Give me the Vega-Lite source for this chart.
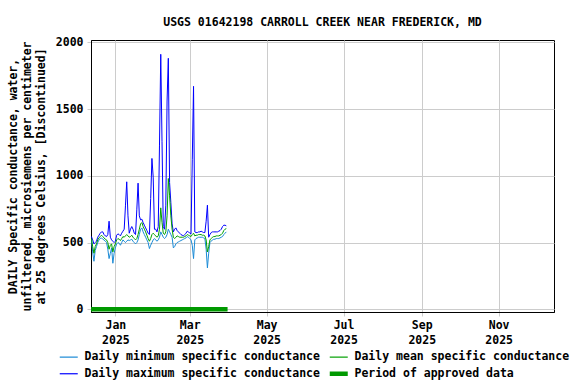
{
 "$schema": "https://vega.github.io/schema/vega-lite/v6.json",
 "width": 463, "height": 272,
 "autosize": "none",
 "padding": {"left": 91, "top": 40, "right": 22, "bottom": 72},
 "background": "white",
 "config": {"font": "DejaVu Sans Mono", "view": {"stroke": "black", "strokeWidth": 1}},
 "title": {"text": "USGS 01642198 CARROLL CREEK NEAR FREDERICK, MD", "fontSize": 11.5, "fontWeight": "bold", "font": "DejaVu Sans Mono", "anchor": "middle", "offset": 8, "color": "black"},
 "data": {"values": [
  {"t":"2024-12-13","min":520,"mean":530,"max":545},
  {"t":"2024-12-14","min":430,"mean":470,"max":520},
  {"t":"2024-12-15","min":360,"mean":420,"max":490},
  {"t":"2024-12-16","min":440,"mean":470,"max":500},
  {"t":"2024-12-17","min":470,"mean":490,"max":510},
  {"t":"2024-12-18","min":500,"mean":520,"max":540},
  {"t":"2024-12-19","min":520,"mean":535,"max":555},
  {"t":"2024-12-20","min":530,"mean":545,"max":570},
  {"t":"2024-12-21","min":535,"mean":555,"max":580},
  {"t":"2024-12-22","min":525,"mean":545,"max":580},
  {"t":"2024-12-23","min":520,"mean":535,"max":560},
  {"t":"2024-12-24","min":510,"mean":525,"max":550},
  {"t":"2024-12-25","min":500,"mean":520,"max":545},
  {"t":"2024-12-26","min":450,"mean":500,"max":560},
  {"t":"2024-12-27","min":380,"mean":450,"max":660},
  {"t":"2024-12-28","min":420,"mean":480,"max":540},
  {"t":"2024-12-29","min":460,"mean":490,"max":520},
  {"t":"2024-12-30","min":345,"mean":430,"max":510},
  {"t":"2024-12-31","min":420,"mean":470,"max":500},
  {"t":"2025-01-01","min":460,"mean":490,"max":510},
  {"t":"2025-01-02","min":490,"mean":520,"max":555},
  {"t":"2025-01-03","min":500,"mean":530,"max":565},
  {"t":"2025-01-04","min":495,"mean":525,"max":560},
  {"t":"2025-01-05","min":480,"mean":515,"max":550},
  {"t":"2025-01-06","min":500,"mean":530,"max":570},
  {"t":"2025-01-07","min":520,"mean":545,"max":585},
  {"t":"2025-01-08","min":510,"mean":540,"max":600},
  {"t":"2025-01-09","min":500,"mean":550,"max":775},
  {"t":"2025-01-10","min":510,"mean":560,"max":955},
  {"t":"2025-01-11","min":520,"mean":550,"max":700},
  {"t":"2025-01-12","min":515,"mean":540,"max":570},
  {"t":"2025-01-13","min":520,"mean":545,"max":600},
  {"t":"2025-01-14","min":525,"mean":555,"max":620},
  {"t":"2025-01-15","min":510,"mean":540,"max":600},
  {"t":"2025-01-16","min":500,"mean":530,"max":570},
  {"t":"2025-01-17","min":490,"mean":520,"max":560},
  {"t":"2025-01-18","min":500,"mean":530,"max":745},
  {"t":"2025-01-19","min":520,"mean":560,"max":945},
  {"t":"2025-01-20","min":560,"mean":600,"max":700},
  {"t":"2025-01-21","min":600,"mean":640,"max":670},
  {"t":"2025-01-22","min":610,"mean":650,"max":675},
  {"t":"2025-01-23","min":580,"mean":620,"max":650},
  {"t":"2025-01-24","min":560,"mean":600,"max":630},
  {"t":"2025-01-25","min":540,"mean":580,"max":610},
  {"t":"2025-01-26","min":520,"mean":555,"max":590},
  {"t":"2025-01-27","min":500,"mean":530,"max":570},
  {"t":"2025-01-28","min":455,"mean":510,"max":560},
  {"t":"2025-01-29","min":480,"mean":530,"max":830},
  {"t":"2025-01-30","min":500,"mean":560,"max":1130},
  {"t":"2025-01-31","min":520,"mean":570,"max":990},
  {"t":"2025-02-01","min":530,"mean":560,"max":600},
  {"t":"2025-02-02","min":520,"mean":550,"max":600},
  {"t":"2025-02-03","min":510,"mean":540,"max":580},
  {"t":"2025-02-04","min":520,"mean":550,"max":620},
  {"t":"2025-02-05","min":540,"mean":600,"max":1230},
  {"t":"2025-02-06","min":580,"mean":760,"max":1910},
  {"t":"2025-02-07","min":560,"mean":650,"max":1255},
  {"t":"2025-02-08","min":540,"mean":570,"max":620},
  {"t":"2025-02-09","min":530,"mean":560,"max":600},
  {"t":"2025-02-10","min":540,"mean":580,"max":780},
  {"t":"2025-02-11","min":560,"mean":700,"max":1560},
  {"t":"2025-02-12","min":600,"mean":980,"max":1880},
  {"t":"2025-02-13","min":580,"mean":850,"max":950},
  {"t":"2025-02-14","min":560,"mean":700,"max":800},
  {"t":"2025-02-15","min":540,"mean":600,"max":640},
  {"t":"2025-02-16","min":460,"mean":540,"max":580},
  {"t":"2025-02-17","min":470,"mean":530,"max":600},
  {"t":"2025-02-18","min":490,"mean":540,"max":610},
  {"t":"2025-02-19","min":500,"mean":550,"max":590},
  {"t":"2025-02-20","min":505,"mean":545,"max":580},
  {"t":"2025-02-21","min":510,"mean":540,"max":570},
  {"t":"2025-02-22","min":515,"mean":540,"max":560},
  {"t":"2025-02-23","min":520,"mean":540,"max":555},
  {"t":"2025-02-24","min":525,"mean":540,"max":550},
  {"t":"2025-02-25","min":530,"mean":545,"max":560},
  {"t":"2025-02-26","min":535,"mean":550,"max":570},
  {"t":"2025-02-27","min":545,"mean":560,"max":585},
  {"t":"2025-02-28","min":540,"mean":555,"max":580},
  {"t":"2025-03-01","min":530,"mean":550,"max":570},
  {"t":"2025-03-02","min":520,"mean":545,"max":565},
  {"t":"2025-03-03","min":480,"mean":560,"max":1120},
  {"t":"2025-03-04","min":380,"mean":570,"max":1670},
  {"t":"2025-03-05","min":520,"mean":550,"max":580},
  {"t":"2025-03-06","min":530,"mean":555,"max":575},
  {"t":"2025-03-07","min":535,"mean":555,"max":575},
  {"t":"2025-03-08","min":540,"mean":560,"max":580},
  {"t":"2025-03-09","min":540,"mean":560,"max":580},
  {"t":"2025-03-10","min":540,"mean":560,"max":585},
  {"t":"2025-03-11","min":540,"mean":555,"max":580},
  {"t":"2025-03-12","min":535,"mean":555,"max":575},
  {"t":"2025-03-13","min":530,"mean":550,"max":575},
  {"t":"2025-03-14","min":450,"mean":520,"max":660},
  {"t":"2025-03-15","min":310,"mean":430,"max":780},
  {"t":"2025-03-16","min":420,"mean":470,"max":540},
  {"t":"2025-03-17","min":500,"mean":520,"max":560},
  {"t":"2025-03-18","min":510,"mean":530,"max":575},
  {"t":"2025-03-19","min":520,"mean":540,"max":580},
  {"t":"2025-03-20","min":525,"mean":545,"max":580},
  {"t":"2025-03-21","min":525,"mean":545,"max":580},
  {"t":"2025-03-22","min":530,"mean":550,"max":580},
  {"t":"2025-03-23","min":530,"mean":550,"max":580},
  {"t":"2025-03-24","min":530,"mean":550,"max":585},
  {"t":"2025-03-25","min":535,"mean":555,"max":590},
  {"t":"2025-03-26","min":540,"mean":560,"max":600},
  {"t":"2025-03-27","min":545,"mean":570,"max":620},
  {"t":"2025-03-28","min":560,"mean":590,"max":630},
  {"t":"2025-03-29","min":570,"mean":600,"max":630},
  {"t":"2025-03-30","min":580,"mean":605,"max":625},
  {"t":"2024-12-12","approved":0},
  {"t":"2025-03-31","approved":0}
 ]},
 "transform": [
  {"fold": ["min", "max", "mean", "approved"], "as": ["series", "value"]},
  {"filter": "isValid(datum.value)"}
 ],
 "mark": {"type": "line", "clip": true},
 "encoding": {
  "x": {"field": "t", "type": "temporal",
   "scale": {"type": "utc", "domain": [{"year": 2024, "month": 12, "date": 12, "hours": 16, "utc": true}, {"year": 2025, "month": 12, "date": 14, "hours": 22, "utc": true}]},
   "axis": {"title": null, "values": [
     {"year": 2025, "month": 1, "date": 1, "utc": true},
     {"year": 2025, "month": 3, "date": 1, "utc": true},
     {"year": 2025, "month": 5, "date": 1, "utc": true},
     {"year": 2025, "month": 7, "date": 1, "utc": true},
     {"year": 2025, "month": 9, "date": 1, "utc": true},
     {"year": 2025, "month": 11, "date": 1, "utc": true}],
    "labelExpr": "[utcFormat(datum.value, '%b'), utcFormat(datum.value, '%Y')]",
    "labelFont": "DejaVu Sans Mono", "labelFontSize": 11.5, "labelFontWeight": "bold", "labelColor": "black", "labelLineHeight": 15,
    "grid": true, "gridColor": "#cccccc", "tickSize": 4, "tickColor": "#cccccc", "labelPadding": 3, "domainColor": "black"}},
  "y": {"field": "value", "type": "quantitative",
   "scale": {"domain": [-20, 2017], "nice": false, "zero": false},
   "axis": {"values": [0, 500, 1000, 1500, 2000], "format": "d",
    "title": ["DAILY Specific conductance, water,", "unfiltered, microsiemens per centimeter", "at 25 degrees Celsius, [Discontinued]"],
    "titleFont": "DejaVu Sans Mono", "titleFontSize": 11.5, "titleFontWeight": "bold", "titleColor": "black", "titleLineHeight": 14, "titlePadding": 9,
    "labelFont": "DejaVu Sans Mono", "labelFontSize": 11.5, "labelFontWeight": "bold", "labelColor": "black",
    "grid": true, "gridColor": "#cccccc", "tickSize": 4, "tickColor": "#cccccc", "labelPadding": 4, "domainColor": "black"}},
  "color": {"field": "series", "type": "nominal",
   "scale": {"domain": ["min", "mean", "max", "approved"], "range": ["#1a8ad6", "#00a000", "#0000ff", "#009900"]},
   "legend": {"title": null, "orient": "none", "legendX": -28, "legendY": 311, "columns": 2, "direction": "horizontal",
    "symbolType": "stroke", "symbolSize": 324, "labelOffset": 10, "columnPadding": 0, "rowPadding": 1,
    "labelFont": "DejaVu Sans Mono", "labelFontSize": 11.5, "labelFontWeight": "bold", "labelColor": "black", "labelLimit": 400,
    "labelExpr": "{'min': 'Daily minimum specific conductance', 'mean': 'Daily mean specific conductance', 'max': 'Daily maximum specific conductance', 'approved': 'Period of approved data'}[datum.label]",
    "encode": {"symbols": {"update": {"strokeWidth": {"signal": "datum.value === 'approved' ? 4.5 : 1.2"}}}}}},
  "strokeWidth": {"condition": {"test": "datum.series === 'approved'", "value": 4.5}, "value": 1}
 }
}
